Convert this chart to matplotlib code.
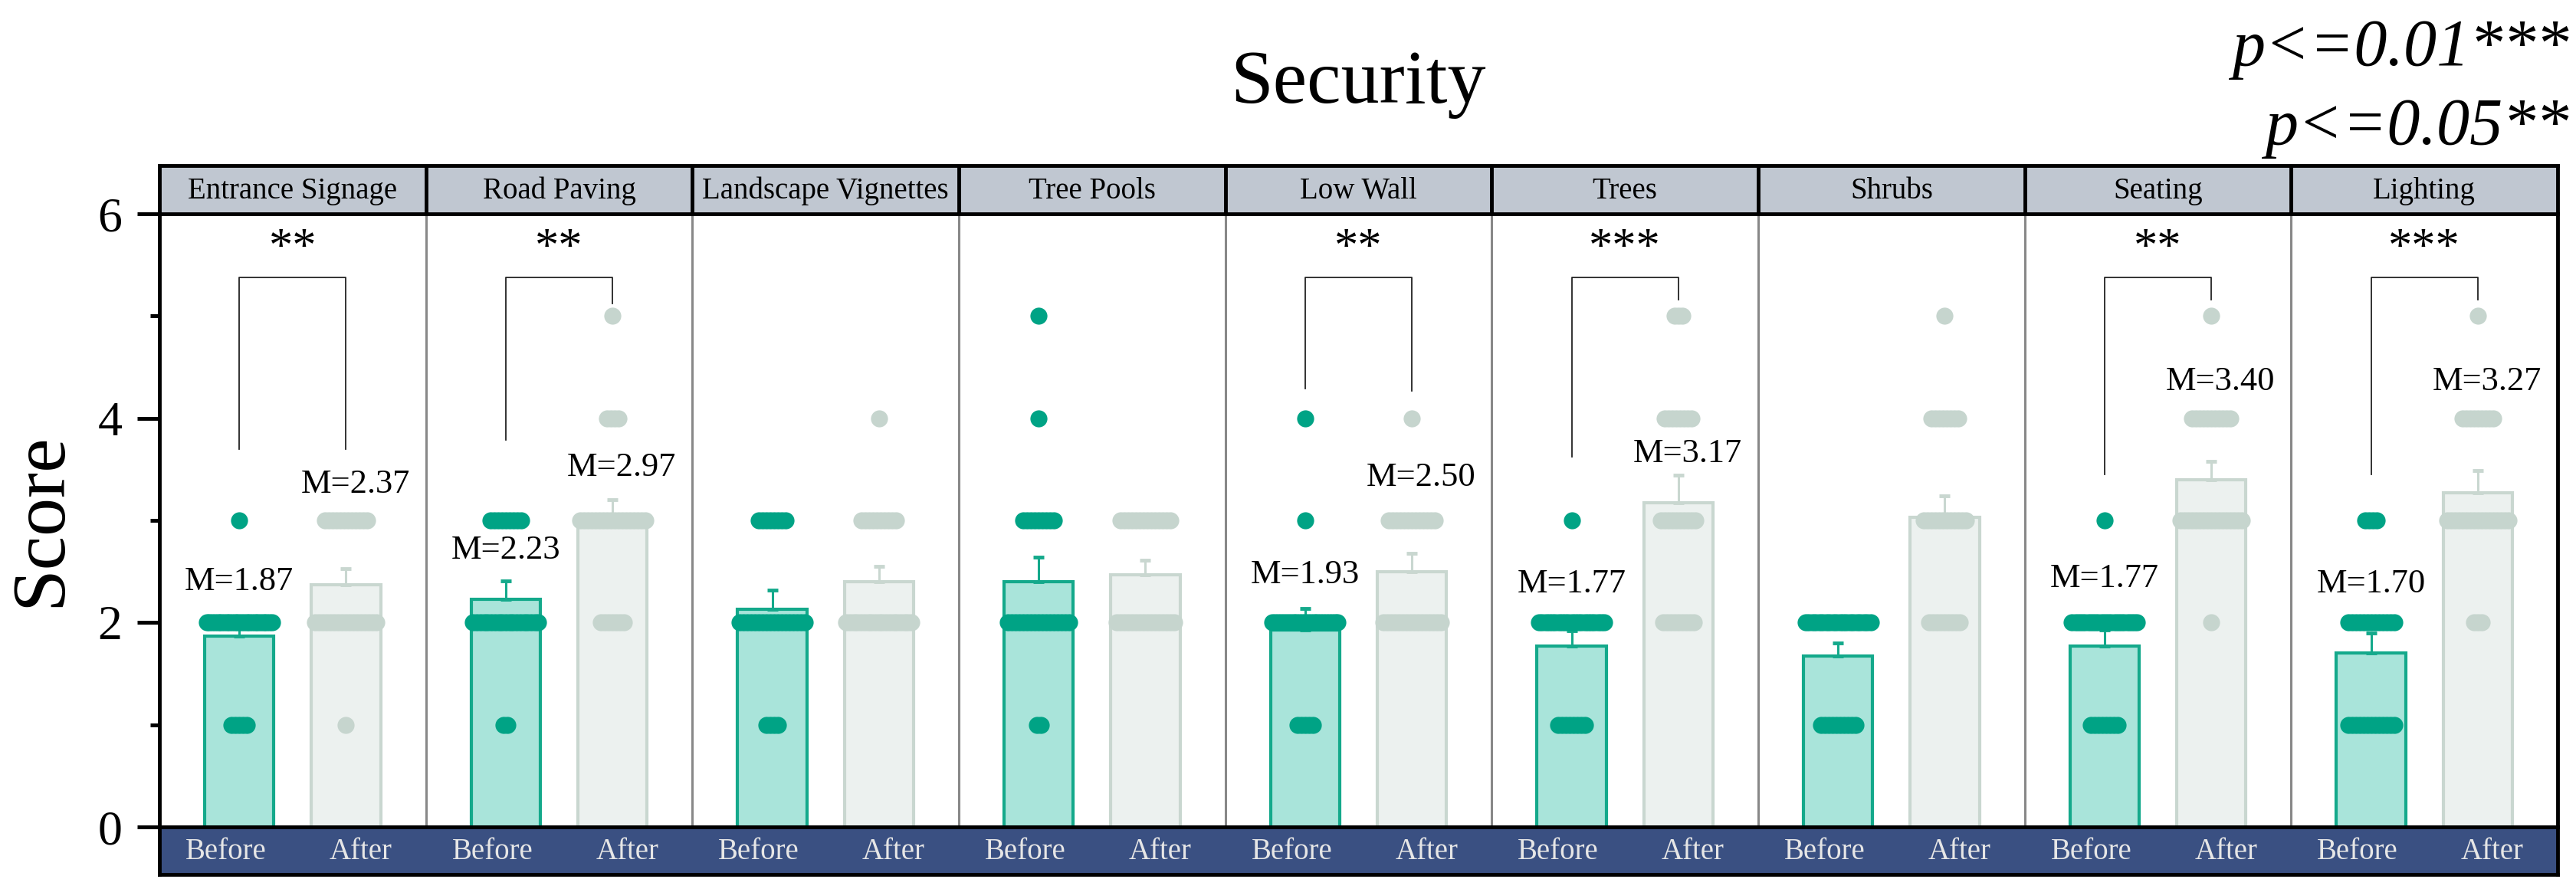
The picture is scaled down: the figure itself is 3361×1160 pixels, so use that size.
import matplotlib
matplotlib.use('Agg')
import matplotlib.pyplot as plt
import numpy as np

plt.rcParams['font.family'] = ['Liberation Serif', 'DejaVu Serif']

#categories (facets)
categories = ['Entrance Signage', 'Road Paving', 'Landscape Vignettes', 'Tree Pools',
              'Low Wall', 'Trees', 'Shrubs', 'Seating', 'Lighting']
groups = ['Before', 'After']
scores = [1, 2, 3, 4, 5]

#number of respondents giving score 1..5 (n=30)
before_counts = [[5, 24, 1, 0, 0],
                 [2, 19, 9, 0, 0],
                 [4, 18, 8, 0, 0],
                 [2, 17, 9, 1, 1],
                 [5, 23, 1, 1, 0],
                 [8, 21, 1, 0, 0],
                 [10, 20, 0, 0, 0],
                 [8, 21, 1, 0, 0],
                 [13, 13, 4, 0, 0]]
after_counts = [[1, 17, 12, 0, 0],
                [0, 7, 18, 4, 1],
                [0, 19, 10, 1, 0],
                [0, 16, 14, 0, 0],
                [0, 16, 13, 1, 0],
                [0, 9, 10, 8, 3],
                [0, 9, 12, 8, 1],
                [0, 1, 17, 11, 1],
                [0, 3, 17, 9, 1]]

#means and upper error bars
before_mean = [1.87, 2.23, 2.13, 2.40, 1.93, 1.77, 1.67, 1.77, 1.70]
after_mean = [2.37, 2.97, 2.40, 2.47, 2.50, 3.17, 3.03, 3.40, 3.27]
before_err = [0.12, 0.18, 0.19, 0.24, 0.21, 0.15, 0.13, 0.16, 0.20]
after_err = [0.16, 0.23, 0.15, 0.14, 0.18, 0.27, 0.21, 0.18, 0.22]

#significance marks
sig = ['**', '**', '', '', '**', '***', '', '**', '***']

#layout of annotations (data units)
before_lab_y = [2.40, 2.71, 0, 0, 2.47, 2.38, 0, 2.43, 2.38]
after_lab_y = [3.35, 3.52, 0, 0, 3.42, 3.65, 0, 4.36, 4.36]
left_leg = [3.70, 3.79, 0, 0, 4.29, 3.62, 0, 3.45, 3.45]
right_leg = [3.70, 5.12, 0, 0, 4.27, 5.16, 0, 5.16, 5.16]
bracket_top = 5.38

#colors
c_before_dot = '#00A385'
c_before_fill = '#A9E4DA'
c_before_edge = '#14A98B'
c_after_dot = '#C6D5CE'
c_after_fill = '#ECF1EF'
c_after_edge = '#C9D7D0'
c_head = '#C0C7D1'
c_foot = '#3A5082'

W_PX, H_PX = 3361, 1160
fig = plt.figure(figsize=(W_PX / 100, H_PX / 100), dpi=100)
left = 208 / W_PX
width = 3129 / W_PX
ax = fig.add_axes([left, (H_PX - 1079) / H_PX, width, 800 / H_PX])
hax = fig.add_axes([left, (H_PX - 279) / H_PX, width, 63 / H_PX])
fax = fig.add_axes([left, (H_PX - 1141) / H_PX, width, 62 / H_PX])

n = len(categories)
pos_b = np.arange(n) + 0.3
pos_a = np.arange(n) + 0.7
bw = 0.26

ax.bar(pos_b, before_mean, bw, color=c_before_fill, edgecolor=c_before_edge, linewidth=3, zorder=2)
ax.bar(pos_a, after_mean, bw, color=c_after_fill, edgecolor=c_after_edge, linewidth=3, zorder=2)
ax.errorbar(pos_b, before_mean, yerr=[np.zeros(n), before_err], fmt='none', ecolor=c_before_edge,
            elinewidth=2.2, capsize=5, capthick=3.5, zorder=3)
ax.errorbar(pos_a, after_mean, yerr=[np.zeros(n), after_err], fmt='none', ecolor=c_after_edge,
            elinewidth=2.2, capsize=5, capthick=3.5, zorder=3)

#dot strips: one row of dots per score, spread by count
step = 5 / 347.7
maxspan = 85 / 347.7
def strip(x0, counts, color):
    for s, c in zip(scores, counts):
        if c == 0:
            continue
        span = min((c - 1) * step, maxspan)
        xs = np.linspace(x0 - span / 2, x0 + span / 2, c)
        ax.plot(xs, [s] * c, 'o', color=color, markersize=16, markeredgewidth=0, zorder=4)

for i in range(n):
    strip(pos_b[i], before_counts[i], c_before_dot)
    strip(pos_a[i], after_counts[i], c_after_dot)

#significance brackets and mean labels
for i in range(n):
    if sig[i] == '':
        continue
    ax.plot([pos_b[i], pos_b[i], pos_a[i], pos_a[i]],
            [left_leg[i], bracket_top, bracket_top, right_leg[i]],
            color='#222222', linewidth=1.3, zorder=3)
    ax.text((pos_b[i] + pos_a[i]) / 2, bracket_top + 0.05, sig[i], ha='center', va='bottom', fontsize=45)
    ax.text(pos_b[i], before_lab_y[i], 'M=%.2f' % before_mean[i], ha='center', va='center', fontsize=32)
    ax.text(pos_a[i] + 0.035, after_lab_y[i], 'M=%.2f' % after_mean[i], ha='center', va='center', fontsize=32)

#panel dividers
for i in range(1, n):
    ax.axvline(i, color='#888888', linewidth=2.2, zorder=1)

ax.set_xlim(0, n)
ax.set_ylim(0, 6)
ax.set_xticks([])
ax.set_yticks([0, 2, 4, 6])
ax.set_yticks([1, 3, 5], minor=True)
ax.tick_params(axis='y', which='major', length=21, width=3.6, labelsize=46, pad=14)
ax.tick_params(axis='y', which='minor', length=9, width=3.6)
for sp in ax.spines.values():
    sp.set_linewidth(3.5)

#header strip
hax.set_xlim(0, n)
hax.set_ylim(0, 1)
hax.set_facecolor(c_head)
hax.set_xticks([])
hax.set_yticks([])
for i in range(1, n):
    hax.axvline(i, color='black', linewidth=3.5)
for i, cat in enumerate(categories):
    hax.text(i + 0.5, 0.47, cat, ha='center', va='center', fontsize=28)
for sp in hax.spines.values():
    sp.set_linewidth(3.5)

#footer strip
fax.set_xlim(0, n)
fax.set_ylim(0, 1)
fax.set_facecolor(c_foot)
fax.set_xticks([])
fax.set_yticks([])
for i in range(n):
    fax.text(i + 0.25, 0.47, groups[0], ha='center', va='center', fontsize=28, color='#E6E6E6')
    fax.text(i + 0.755, 0.47, groups[1], ha='center', va='center', fontsize=28, color='#E6E6E6')
for sp in fax.spines.values():
    sp.set_linewidth(3.5)

fig.text(54 / W_PX, 0.415, 'Score', rotation=90, ha='center', va='center', fontsize=72)
fig.text(1772 / W_PX, 0.905, 'Security', ha='center', va='center', fontsize=72)
fig.text(3352 / W_PX, 0.945, 'p<=0.01***', ha='right', va='center', fontsize=62, style='italic')
fig.text(3352 / W_PX, 0.856, 'p<=0.05**', ha='right', va='center', fontsize=62, style='italic')

fig.savefig('out.png', dpi=100)
